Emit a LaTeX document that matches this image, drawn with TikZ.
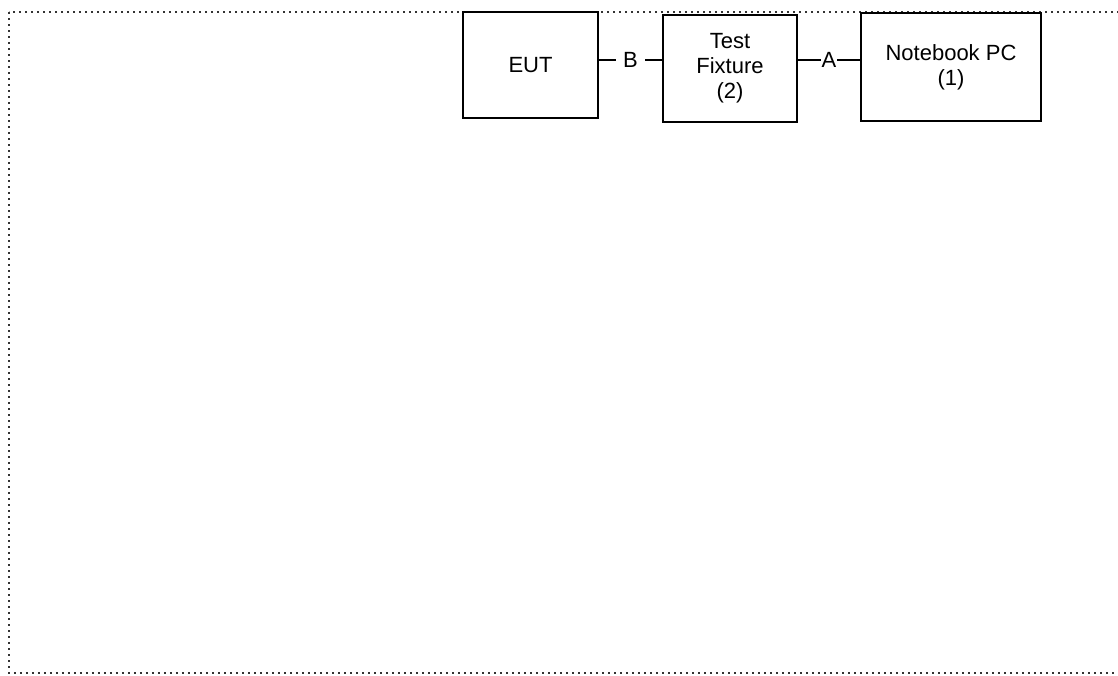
\documentclass[tikz,border=0pt]{standalone}
\usepackage{fontspec}
\setmainfont{Liberation Sans}
\usetikzlibrary{positioning}

\tikzset{
  unit/.style={draw, line width=2pt, align=center, inner sep=0pt,
    font=\fontsize{22}{25}\selectfont},
  link/.style={line width=1.6pt},
  linklabel/.style={fill=white, inner sep=1pt, font=\fontsize{22}{25}\selectfont},
  frame/.style={draw=black!80, line width=1.7pt, dash pattern=on 1.7pt off 4.3pt}
}

\begin{document}
\begin{tikzpicture}[x=1pt,y=-1pt]
% fix the page to the size of the reference
\useasboundingbox (0,0) rectangle (1118,675);
\clip (0,0) rectangle (1118,675);
% the dotted border, open on the right
\draw[frame] (9,12) rectangle (1130,673);
% the three units, left to right
\node[unit, minimum width=135pt, minimum height=106pt] (eut) at (530.5,65) {EUT};
\node[unit, minimum width=134pt, minimum height=107pt,
      right=63pt of eut, yshift=-3.5pt] (fix) {Test\\Fixture\\(2)};
\node[unit, minimum width=180pt, minimum height=108pt,
      right=62pt of fix, yshift=1.5pt] (pc) {Notebook PC\\(1)};
% cables between them
\draw[link] ([yshift=5pt]eut.east) -- node[linklabel, inner xsep=7pt]{B} ([yshift=8.5pt]fix.west);
\draw[link] ([yshift=8.5pt]fix.east) -- node[linklabel, inner xsep=0.5pt]{A} ([yshift=7pt]pc.west);
\end{tikzpicture}
\end{document}
